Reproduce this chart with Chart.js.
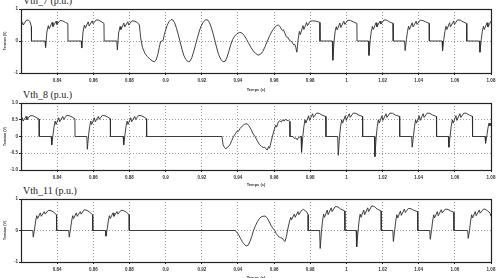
<!DOCTYPE html>
<html>
<head>
<meta charset="utf-8">
<script src="https://cdn.jsdelivr.net/npm/chart.js"></script>
<style>
  html, body { margin: 0; padding: 0; background: #fff; }
  body { width: 501px; height: 278px; position: relative; overflow: hidden; }
  canvas { position: absolute; left: 0; top: 0; }
  .ttl { position: absolute; left: 23px; font: 10px/10px "Liberation Serif", "DejaVu Serif", serif; color: #222; white-space: nowrap; }
</style>
</head>
<body>
<div class="ttl" id="t1" style="top:-4px">Vth_7 (p.u.)</div>
<div class="ttl" id="t2" style="top:90px">Vth_8 (p.u.)</div>
<div class="ttl" id="t3" style="top:186px">Vth_11 (p.u.)</div>
<canvas id="c1" width="501" height="300"></canvas>
<canvas id="c2" width="501" height="300"></canvas>
<canvas id="c3" width="501" height="300"></canvas>
<script>
// time axis (s)
const xTickLabels = ["0.84", "0.86", "0.88", "0.9", "0.92", "0.94", "0.96", "0.98", "1", "1.02", "1.04", "1.06", "1.08"];
const yTicks3 = [-1, 0, 1];
const yTicks5 = [-1, -0.5, 0, 0.5, 1];

// Vth_7 [t, v]
const vth7 = [
  [0.8200, 0.45], [0.8208, 0.58], [0.8213, 0.50], [0.8228, 0.64], [0.8240, 0.66], [0.8250, 0.60], [0.8257, 0.45], [0.8258, 0],
  [0.8333, 0], [0.8336, -0.2], [0.8343, 0.28], [0.8351, 0.48], [0.8356, 0.38], [0.8372, 0.58], [0.8377, 0.45], [0.8394, 0.62], [0.8399, 0.52], [0.8416, 0.64], [0.8430, 0.63], [0.8445, 0.58], [0.8459, 0.55], [0.8460, 0],
  [0.8533, 0], [0.8536, -0.22], [0.8543, 0.28], [0.8551, 0.5], [0.8556, 0.4], [0.8572, 0.6], [0.8577, 0.47], [0.8594, 0.63], [0.8599, 0.54], [0.8616, 0.66], [0.8630, 0.65], [0.8645, 0.6], [0.8659, 0.55], [0.8660, 0],
  [0.8730, 0], [0.8733, -0.28], [0.8740, 0.25], [0.8748, 0.45], [0.8753, 0.36], [0.8769, 0.56], [0.8774, 0.44], [0.8791, 0.6], [0.8796, 0.5], [0.8813, 0.63], [0.8828, 0.62], [0.8843, 0.58], [0.8855, 0.5],
  [0.8862, 0.1], [0.8872, -0.2], [0.8885, -0.38], [0.8898, -0.48], [0.8912, -0.56], [0.8925, -0.62], [0.8937, -0.65], [0.8947, -0.6], [0.8957, -0.42], [0.8965, -0.2], [0.8972, -0.02], [0.8986, 0.02],
  [0.8993, 0.2], [0.8998, 0.3], [0.9008, 0.48], [0.9018, 0.6], [0.9030, 0.67], [0.9040, 0.66], [0.9050, 0.57], [0.9060, 0.4], [0.9070, 0.2], [0.9080, -0.02], [0.9090, -0.25], [0.9100, -0.44], [0.9112, -0.58], [0.9125, -0.65], [0.9135, -0.63], [0.9145, -0.52], [0.9155, -0.34], [0.9165, -0.13],
  [0.9175, 0.08], [0.9185, 0.28], [0.9195, 0.45], [0.9207, 0.58], [0.9220, 0.66], [0.9232, 0.66], [0.9243, 0.57], [0.9253, 0.42], [0.9263, 0.22], [0.9273, 0.0], [0.9283, -0.22], [0.9293, -0.42], [0.9305, -0.57], [0.9318, -0.65], [0.9330, -0.63], [0.9340, -0.5], [0.9350, -0.32], [0.9360, -0.12],
  [0.9370, 0.04], [0.9382, 0.15], [0.9395, 0.23], [0.9410, 0.27], [0.9422, 0.25], [0.9435, 0.17], [0.9448, 0.05], [0.9460, -0.08], [0.9472, -0.2], [0.9485, -0.31], [0.9498, -0.39], [0.9511, -0.44], [0.9524, -0.42], [0.9537, -0.33], [0.9550, -0.18],
  [0.9563, 0.0], [0.9576, 0.17], [0.9590, 0.32], [0.9603, 0.42], [0.9614, 0.48], [0.9623, 0.5], [0.9632, 0.46], [0.9640, 0.38], [0.9646, 0.33], [0.9652, 0.35], [0.9660, 0.24], [0.9668, 0.13], [0.9675, 0.12], [0.9684, 0.03], [0.9692, 0.0], [0.9700, -0.04], [0.9708, -0.12], [0.9714, -0.1], [0.9720, -0.2], [0.9726, -0.35],
  [0.9733, 0.05], [0.9740, 0.3], [0.9745, 0.2], [0.9760, 0.48], [0.9765, 0.36], [0.9780, 0.58], [0.9785, 0.48], [0.9800, 0.62], [0.9815, 0.63], [0.9830, 0.62], [0.9845, 0.6], [0.9853, 0.58], [0.9854, 0],
  [0.9922, 0], [0.9925, -0.6], [0.9932, 0.0], [0.9938, 0.3], [0.9944, 0.45], [0.9949, 0.35], [0.9964, 0.56], [0.9969, 0.42], [0.9986, 0.62], [0.9991, 0.52], [1.0008, 0.65], [1.0023, 0.64], [1.0038, 0.6], [1.0058, 0.55], [1.0059, 0],
  [1.0122, 0], [1.0125, -0.45], [1.0132, 0.05], [1.0138, 0.3], [1.0144, 0.46], [1.0149, 0.36], [1.0164, 0.57], [1.0169, 0.44], [1.0186, 0.62], [1.0191, 0.53], [1.0208, 0.66], [1.0223, 0.65], [1.0238, 0.6], [1.0258, 0.55], [1.0259, 0],
  [1.0322, 0], [1.0325, -0.3], [1.0332, 0.05], [1.0338, 0.3], [1.0344, 0.46], [1.0349, 0.36], [1.0364, 0.57], [1.0369, 0.44], [1.0386, 0.62], [1.0391, 0.52], [1.0408, 0.65], [1.0423, 0.64], [1.0438, 0.6], [1.0458, 0.55], [1.0459, 0],
  [1.0529, 0], [1.0532, -0.3], [1.0539, 0.05], [1.0545, 0.3], [1.0551, 0.46], [1.0556, 0.36], [1.0571, 0.57], [1.0576, 0.44], [1.0593, 0.62], [1.0598, 0.52], [1.0615, 0.66], [1.0630, 0.65], [1.0645, 0.6], [1.0665, 0.55], [1.0666, 0],
  [1.0736, 0], [1.0739, -0.35], [1.0746, 0.05], [1.0752, 0.3], [1.0758, 0.46], [1.0763, 0.36], [1.0778, 0.57], [1.0783, 0.44], [1.0800, 0.62]
];

// Vth_8 [t, v]
const vth8 = [
  [0.8200, 0.45], [0.8207, 0.56], [0.8212, 0.46], [0.8228, 0.6], [0.8233, 0.5], [0.8250, 0.62], [0.8265, 0.62], [0.8280, 0.58], [0.8300, 0.52], [0.8301, 0],
  [0.8367, 0], [0.8370, -0.25], [0.8377, 0.05], [0.8383, 0.3], [0.8389, 0.46], [0.8394, 0.36], [0.8409, 0.56], [0.8414, 0.44], [0.8431, 0.6], [0.8436, 0.51], [0.8453, 0.63], [0.8468, 0.62], [0.8483, 0.58], [0.8498, 0.53], [0.8499, 0],
  [0.8564, 0], [0.8567, -0.38], [0.8574, 0.05], [0.8580, 0.3], [0.8586, 0.46], [0.8591, 0.36], [0.8606, 0.56], [0.8611, 0.44], [0.8628, 0.6], [0.8633, 0.51], [0.8650, 0.63], [0.8665, 0.62], [0.8680, 0.58], [0.8694, 0.53], [0.8695, 0],
  [0.8765, 0], [0.8768, -0.25], [0.8775, 0.05], [0.8781, 0.3], [0.8787, 0.46], [0.8792, 0.36], [0.8807, 0.56], [0.8812, 0.44], [0.8829, 0.6], [0.8834, 0.51], [0.8851, 0.63], [0.8866, 0.62], [0.8881, 0.58], [0.8894, 0.53], [0.8895, 0],
  [0.9312, 0], [0.9318, -0.25], [0.9326, -0.33], [0.9333, -0.37], [0.9341, -0.32], [0.9348, -0.3], [0.9356, -0.24], [0.9366, -0.12], [0.9376, 0.0], [0.9388, 0.1], [0.9396, 0.16], [0.9402, 0.15], [0.9412, 0.24], [0.9425, 0.32], [0.9438, 0.37], [0.9450, 0.38],
  [0.9460, 0.33], [0.9472, 0.22], [0.9484, 0.08], [0.9495, 0.0], [0.9507, -0.13], [0.9519, -0.24], [0.9531, -0.3], [0.9541, -0.33], [0.9549, -0.32], [0.9556, -0.38], [0.9563, -0.4], [0.9569, -0.3], [0.9575, -0.35], [0.9584, -0.15], [0.9593, 0.05], [0.9602, 0.22],
  [0.9609, 0.34], [0.9614, 0.28], [0.9624, 0.44], [0.9632, 0.47], [0.9640, 0.43], [0.9648, 0.5], [0.9656, 0.46], [0.9664, 0.52], [0.9672, 0.47], [0.9680, 0.48], [0.9687, 0.45], [0.9688, 0],
  [0.9705, 0], [0.9712, -0.06], [0.9720, -0.04], [0.9728, -0.1], [0.9735, -0.03], [0.9749, 0],
  [0.9752, -0.47], [0.9759, 0.0], [0.9765, 0.3], [0.9771, 0.5], [0.9776, 0.4], [0.9791, 0.62], [0.9796, 0.48], [0.9813, 0.68], [0.9818, 0.57], [0.9835, 0.7], [0.9850, 0.69], [0.9865, 0.64], [0.9886, 0.6], [0.9887, 0],
  [0.9952, 0], [0.9955, -0.56], [0.9962, 0.0], [0.9968, 0.3], [0.9974, 0.5], [0.9979, 0.4], [0.9994, 0.62], [0.9999, 0.48], [1.0016, 0.68], [1.0021, 0.57], [1.0038, 0.7], [1.0053, 0.69], [1.0068, 0.64], [1.0089, 0.6], [1.0090, 0],
  [1.0155, 0], [1.0158, -0.6], [1.0165, 0.0], [1.0171, 0.3], [1.0177, 0.5], [1.0182, 0.4], [1.0197, 0.62], [1.0202, 0.48], [1.0219, 0.68], [1.0224, 0.57], [1.0241, 0.7], [1.0256, 0.69], [1.0271, 0.64], [1.0294, 0.6], [1.0295, 0],
  [1.0361, 0], [1.0364, -0.32], [1.0371, 0.02], [1.0377, 0.3], [1.0383, 0.5], [1.0388, 0.4], [1.0403, 0.62], [1.0408, 0.48], [1.0425, 0.68], [1.0430, 0.57], [1.0447, 0.7], [1.0462, 0.69], [1.0477, 0.64], [1.0498, 0.6], [1.0499, 0],
  [1.0564, 0], [1.0567, -0.32], [1.0574, 0.02], [1.0580, 0.3], [1.0586, 0.5], [1.0591, 0.4], [1.0606, 0.62], [1.0611, 0.48], [1.0628, 0.68], [1.0633, 0.57], [1.0650, 0.7], [1.0665, 0.69], [1.0680, 0.64], [1.0697, 0.6], [1.0698, 0],
  [1.0767, 0], [1.0770, -0.2], [1.0777, 0.02], [1.0783, 0.25], [1.0789, 0.4], [1.0794, 0.32], [1.0800, 0.4]
];

// Vth_11 [t, v]
const vth11 = [
  [0.8200, 0], [0.8265, 0], [0.8268, -0.21], [0.8275, 0.05], [0.8281, 0.3], [0.8287, 0.47], [0.8292, 0.38], [0.8307, 0.56], [0.8312, 0.45], [0.8329, 0.6], [0.8334, 0.52], [0.8351, 0.64], [0.8366, 0.63], [0.8381, 0.58], [0.8396, 0.5], [0.8397, 0],
  [0.8464, 0], [0.8467, -0.21], [0.8474, 0.05], [0.8480, 0.3], [0.8486, 0.47], [0.8491, 0.38], [0.8506, 0.56], [0.8511, 0.45], [0.8528, 0.6], [0.8533, 0.52], [0.8550, 0.66], [0.8565, 0.64], [0.8580, 0.58], [0.8596, 0.5], [0.8597, 0],
  [0.8667, 0], [0.8670, -0.18], [0.8677, 0.05], [0.8683, 0.3], [0.8689, 0.47], [0.8694, 0.38], [0.8709, 0.56], [0.8714, 0.45], [0.8731, 0.6], [0.8736, 0.52], [0.8753, 0.64], [0.8768, 0.63], [0.8783, 0.58], [0.8798, 0.5], [0.8799, 0],
  [0.9384, 0], [0.9395, -0.06], [0.9405, -0.15], [0.9415, -0.26], [0.9425, -0.36], [0.9435, -0.44], [0.9446, -0.49], [0.9456, -0.47], [0.9466, -0.36], [0.9476, -0.2], [0.9486, 0.0],
  [0.9497, 0.15], [0.9508, 0.28], [0.9518, 0.37], [0.9528, 0.43], [0.9538, 0.45], [0.9550, 0.46], [0.9562, 0.4], [0.9574, 0.27], [0.9586, 0.13], [0.9596, 0.05], [0.9604, 0.0], [0.9612, -0.1], [0.9620, -0.16], [0.9628, -0.2], [0.9636, -0.23], [0.9644, -0.24], [0.9652, -0.3], [0.9660, -0.35],
  [0.9668, -0.2], [0.9676, 0.05], [0.9686, 0.3], [0.9692, 0.42], [0.9697, 0.34], [0.9712, 0.52], [0.9717, 0.42], [0.9732, 0.6], [0.9737, 0.5], [0.9752, 0.64], [0.9762, 0.67], [0.9772, 0.63], [0.9782, 0.58], [0.9788, 0.5], [0.9789, 0],
  [0.9852, 0], [0.9855, -0.57], [0.9862, -0.05], [0.9868, 0.3], [0.9874, 0.52], [0.9879, 0.42], [0.9894, 0.65], [0.9899, 0.5], [0.9916, 0.72], [0.9921, 0.6], [0.9938, 0.76], [0.9953, 0.75], [0.9968, 0.68], [0.9991, 0.62], [0.9992, 0],
  [1.0054, 0], [1.0057, -0.52], [1.0064, -0.05], [1.0070, 0.3], [1.0076, 0.52], [1.0081, 0.42], [1.0096, 0.65], [1.0101, 0.5], [1.0118, 0.72], [1.0123, 0.6], [1.0140, 0.78], [1.0155, 0.76], [1.0170, 0.68], [1.0192, 0.62], [1.0193, 0],
  [1.0257, 0], [1.0260, -0.35], [1.0267, 0.0], [1.0273, 0.3], [1.0279, 0.5], [1.0284, 0.4], [1.0299, 0.62], [1.0304, 0.48], [1.0321, 0.68], [1.0326, 0.57], [1.0343, 0.7], [1.0358, 0.69], [1.0373, 0.64], [1.0394, 0.6], [1.0395, 0],
  [1.0461, 0], [1.0464, -0.28], [1.0471, 0.0], [1.0477, 0.3], [1.0483, 0.5], [1.0488, 0.4], [1.0503, 0.6], [1.0508, 0.47], [1.0525, 0.66], [1.0530, 0.56], [1.0547, 0.68], [1.0562, 0.67], [1.0577, 0.62], [1.0594, 0.58], [1.0595, 0],
  [1.0671, 0], [1.0674, -0.25], [1.0681, 0.0], [1.0687, 0.3], [1.0693, 0.5], [1.0698, 0.4], [1.0713, 0.6], [1.0718, 0.47], [1.0735, 0.65], [1.0740, 0.55], [1.0757, 0.67], [1.0767, 0.68], [1.0782, 0.62], [1.0795, 0.55], [1.0800, 0.45]
];

// box round the plot area
const frame = {
  id: 'frame',
  afterDraw(chart) {
    const a = chart.chartArea, c = chart.ctx;
    c.save();
    c.strokeStyle = '#222';
    c.lineWidth = 1.2;
    c.strokeRect(a.left + 0.5, a.top + 0.5, a.right - a.left, a.bottom - a.top);
    c.restore();
  }
};

function makeChart(id, series, yTicks, pad, xh) {
  new Chart(document.getElementById(id), {
    type: 'line',
    data: {
      datasets: [{
        data: series.map(p => ({ x: p[0], y: p[1] })),
        borderColor: '#2b2b2b',
        borderWidth: 0.9,
        pointRadius: 0,
        tension: 0
      }]
    },
    options: {
      responsive: false,
      animation: false,
      devicePixelRatio: 1,
      layout: { padding: pad },
      plugins: { legend: { display: false }, tooltip: { enabled: false } },
      scales: {
        x: {
          type: 'linear',
          min: 0.82,
          max: 1.08,
          afterBuildTicks: s => { s.ticks = xTickLabels.map(v => ({ value: parseFloat(v) })); },
          afterFit: s => { s.height = xh; },
          ticks: {
            autoSkip: false, maxRotation: 0, padding: 3, color: '#333',
            font: { family: 'Liberation Sans', size: 4.5, weight: 'bold' },
            callback: (v, i) => xTickLabels[i]
          },
          grid: { color: '#999', tickLength: 2, tickColor: '#222' },
          border: { color: '#222', dash: [1, 2] },
          title: { display: true, text: 'Temps (s)', color: '#333', padding: 0, font: { family: 'Liberation Sans', size: 4, weight: 'bold' } }
        },
        y: {
          min: -1,
          max: 1,
          afterBuildTicks: s => { s.ticks = yTicks.map(v => ({ value: v })); },
          afterFit: s => { s.width = 21; },
          ticks: { padding: 1, color: '#333', font: { family: 'Liberation Sans', size: 4.5, weight: 'bold' } },
          grid: { color: '#999', tickLength: 2, tickColor: '#222' },
          border: { color: '#222', dash: [1, 2] },
          title: { display: true, text: 'Tension (V)', color: '#333', padding: { top: 3, bottom: 0 }, font: { family: 'Liberation Sans', size: 3.5, weight: 'bold' } }
        }
      }
    },
    plugins: [frame]
  });
}

makeChart('c1', vth7, yTicks3, { top: 9, bottom: 208, left: 0, right: 10 }, 19);
makeChart('c2', vth8, yTicks5, { top: 103, bottom: 113, left: 0, right: 10 }, 17);
makeChart('c3', vth11, yTicks3, { top: 199, bottom: 20, left: 0, right: 10 }, 18);
</script>
</body>
</html>
